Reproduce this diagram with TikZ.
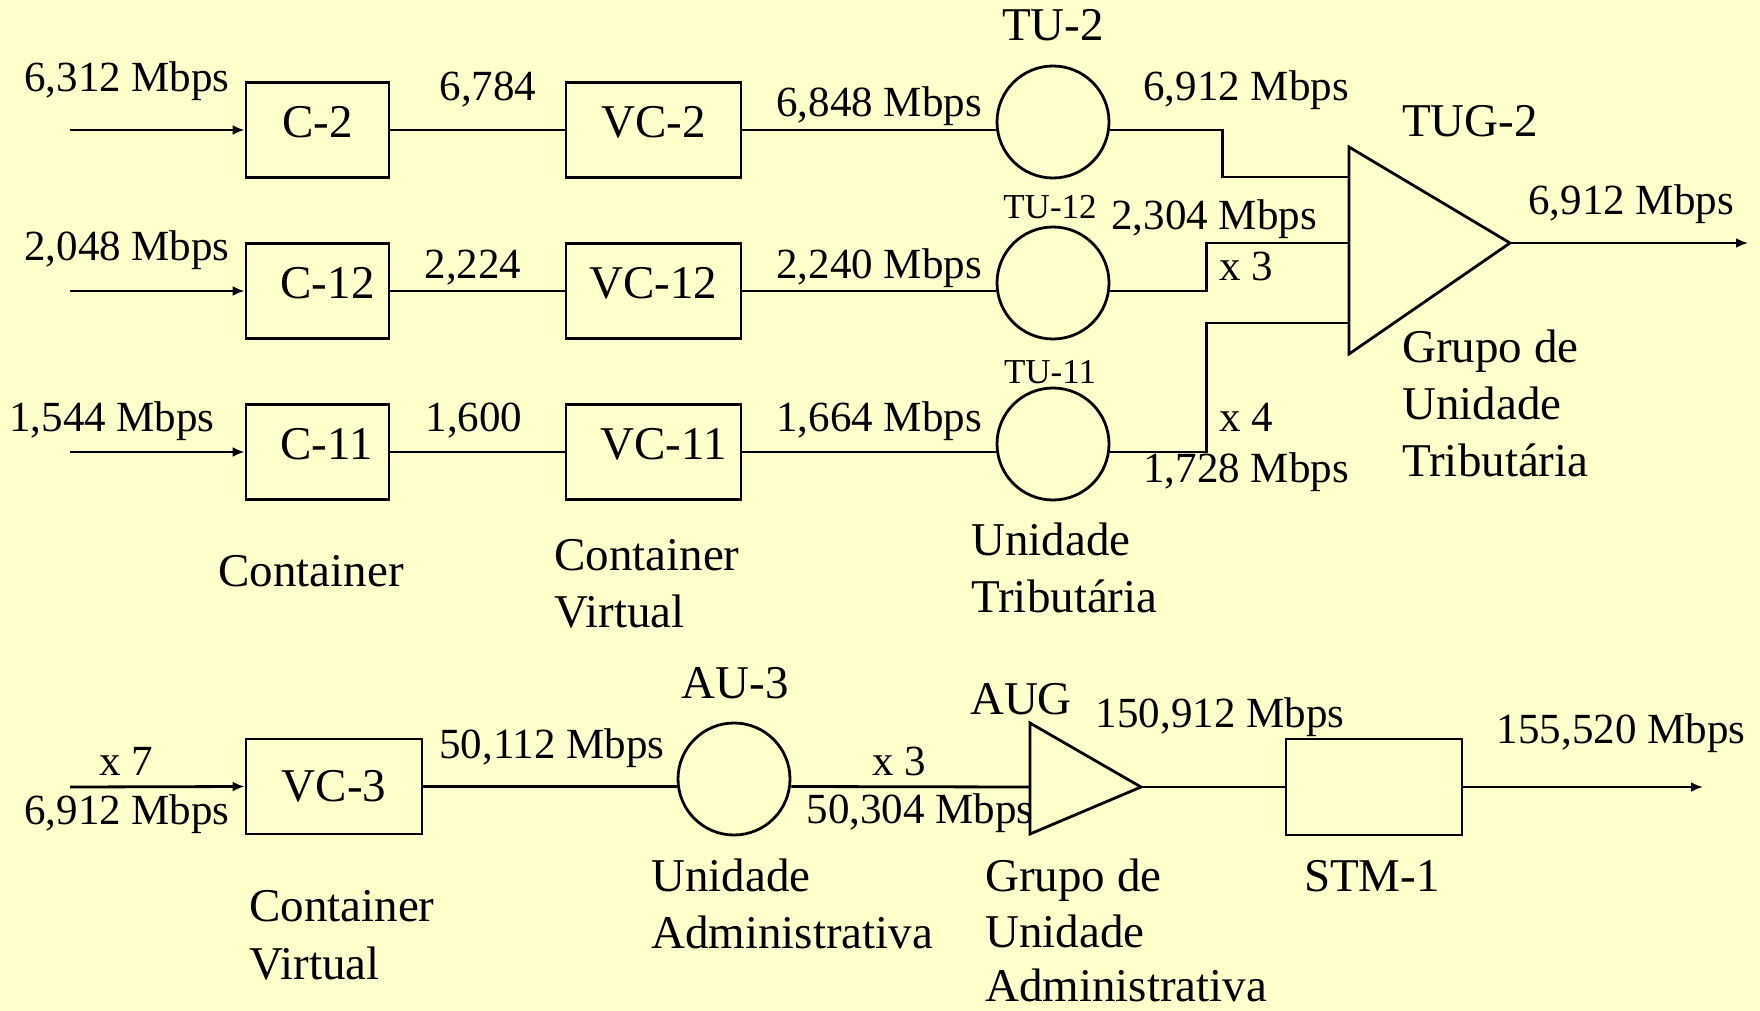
\documentclass[tikz,border=0pt]{standalone}
\usepackage{fontspec}
\setmainfont{Liberation Serif}
\usetikzlibrary{arrows.meta}
\definecolor{bgyellow}{HTML}{FFFFCC}
\tikzset{
  ln/.style={line width=2.8pt, draw=black},
  arr/.style={ln, -{Latex[length=12pt,width=10pt]}},
  boxnode/.style={ln, rectangle, inner sep=0pt, minimum height=95pt, font=\fontsize{47}{56}\selectfont},
  cnode/.style={ln, circle, inner sep=0pt, minimum size=112pt},
  rate/.style={anchor=base, inner sep=0pt, font=\fontsize{43}{52}\selectfont},
  big/.style={anchor=base, inner sep=0pt, font=\fontsize{47}{56}\selectfont},
  bigw/.style={anchor=base west, inner sep=0pt, font=\fontsize{47}{56}\selectfont},
  small/.style={anchor=base, inner sep=0pt, font=\fontsize{35}{42}\selectfont},
  boxtxt/.style={anchor=center, inner sep=0pt, font=\fontsize{47}{56}\selectfont},
}
\begin{document}
\begin{tikzpicture}[x=1pt,y=-1pt]
\fill[bgyellow] (0,0) rectangle (1760,1011);
\useasboundingbox (0,0) rectangle (1760,1011);

% ---------- Row 1 ----------
\coordinate (in1) at (70,130);
\node[boxnode, minimum width=143pt] (c2) at (317.5,130) {};
\node[boxnode, minimum width=175pt] (vc2) at (653.5,130) {};
\node[cnode] (tu2) at (1053,122) {};
% ---------- Row 2 ----------
\coordinate (in2) at (70,291);
\node[boxnode, minimum width=143pt] (c12) at (317.5,291) {};
\node[boxnode, minimum width=175pt] (vc12) at (653.5,291) {};
\node[cnode] (tu12) at (1053,283) {};
% ---------- Row 3 ----------
\coordinate (in3) at (70,452);
\node[boxnode, minimum width=143pt] (c11) at (317.5,452) {};
\node[boxnode, minimum width=175pt] (vc11) at (653.5,452) {};
\node[cnode] (tu11) at (1053,444) {};

% box texts
\node[boxtxt] (tc2) at ([yshift=8pt]c2.center) {C-2};
\node[boxtxt] (tvc2) at ([yshift=8pt]vc2.center) {VC-2};
\node[boxtxt] (tc12) at ([xshift=10pt,yshift=8pt]c12.center) {C-12};
\node[boxtxt] (tvc12) at ([yshift=8pt]vc12.center) {VC-12};
\node[boxtxt] (tc11) at ([xshift=9pt,yshift=8pt]c11.center) {C-11};
\node[boxtxt] (tvc11) at ([xshift=10pt,yshift=8pt]vc11.center) {VC-11};

% TUG-2 triangle
\coordinate (tugT) at (1349,147);
\coordinate (tugB) at (1349,354);
\coordinate (tugO) at (1510,243);
\coordinate (tugin1) at (1349,177);
\coordinate (tugin2) at (1349,243);
\coordinate (tugin3) at (1349,323);
\coordinate (tugend) at (1748,243);
\draw[ln, line join=miter] (tugT) -- (tugO) -- (tugB) -- cycle;

% connectors rows 1-3
\draw[arr] (in1) -- (c2.west);
\draw[ln] (c2.east) -- (vc2.west);
\draw[ln] (vc2.east) -- (vc2.east -| tu2.west);
\draw[ln] (tu2.east |- vc2.east) -- ++(112,0) |- (tugin1);

\draw[arr] (in2) -- (c12.west);
\draw[ln] (c12.east) -- (vc12.west);
\draw[ln] (vc12.east) -- (vc12.east -| tu12.west);
\draw[ln] (tu12.east |- vc12.east) -- ++(96,0) |- (tugin2);

\draw[arr] (in3) -- (c11.west);
\draw[ln] (c11.east) -- (vc11.west);
\draw[ln] (vc11.east) -- (vc11.east -| tu11.west);
\draw[ln] (tu11.east |- vc11.east) -- ++(96,0) |- (tugin3);

\draw[arr] (tugO) -- (tugend);

% labels rows 1-3
\node[rate] (l1in) at (127,92) {6,312 Mbps};
\node[rate] (l1a) at (488,101) {6,784};
\node[rate] (l1b) at (879,117) {6,848 Mbps};
\node[rate] (l1c) at (1246,101) {6,912 Mbps};
\node[rate] (l2in) at (127,260) {2,048 Mbps};
\node[rate] (l2a) at (473,278) {2,224};
\node[rate] (l2b) at (879,278) {2,240 Mbps};
\node[rate] (l2c) at (1214,229) {2,304 Mbps};
\node[rate] (lx3) at (1246,280) {x 3};
\node[rate] (l3in) at (112,431) {1,544 Mbps};
\node[rate] (l3a) at (474,431) {1,600};
\node[rate] (l3b) at (879,431) {1,664 Mbps};
\node[rate] (lx4) at (1246,431) {x 4};
\node[rate] (l3c) at (1246,482) {1,728 Mbps};
\node[rate] (ltug) at (1631,214) {6,912 Mbps};

\node[big] (ttu2) at (1053,41) {TU-2};
\node[small] (ttu12) at (1050,218) {TU-12};
\node[small] (ttu11) at (1050,383) {TU-11};
\node[big] (ttug) at (1470,137) {TUG-2};
\node[bigw] (g1) at (1402,362) {Grupo de};
\node[bigw] (g2) at (1402,419) {Unidade};
\node[bigw] (g3) at (1402,476) {Tributária};
\node[big] (cont1) at (311,586) {Container};
\node[bigw] (cv1) at (554,570) {Container};
\node[bigw] (cv2) at (554,627) {Virtual};
\node[bigw] (ut1) at (971,555) {Unidade};
\node[bigw] (ut2) at (971,612) {Tributária};

% ---------- Bottom row ----------
\coordinate (in4) at (70,787);
\node[boxnode, minimum width=176pt] (vc3) at (334,786.5) {VC-3};
\node[cnode] (au3) at (734,779) {};
\coordinate (augT) at (1030,723);
\coordinate (augB) at (1030,834);
\coordinate (augO) at (1141,787);
\coordinate (augin) at (1030,787);
\draw[ln, line join=miter] (augT) -- (augO) -- (augB) -- cycle;
\node[boxnode, minimum width=176pt, minimum height=96pt] (stm) at (1374,787) {};
\coordinate (out4) at (1703,787);

\draw[arr] (in4) -- (vc3.west);
\draw[ln] (vc3.east) -- (vc3.east -| au3.west);
\draw[ln] (au3.east |- vc3.east) -- (augin);
\draw[ln] (augO) -- (stm.west);
\draw[arr] (stm.east) -- (out4);

\node[rate] (lx7) at (126,775) {x 7};
\node[rate] (l4in) at (127,824) {6,912 Mbps};
\node[rate] (l4a) at (552,758) {50,112 Mbps};
\node[rate] (lx3b) at (899,775) {x 3};
\node[rate] (l4b) at (920,823) {50,304 Mbps};
\node[rate] (l4c) at (1220,727) {150,912 Mbps};
\node[rate] (l4d) at (1621,743) {155,520 Mbps};

\node[big] (tau3) at (735,698) {AU-3};
\node[big] (taug) at (1021,714) {AUG};
\node[big] (tstm) at (1372,891) {STM-1};
\node[bigw] (ua1) at (651,891) {Unidade};
\node[bigw] (ua2) at (651,948) {Administrativa};
\node[bigw] (ga1) at (985,891) {Grupo de};
\node[bigw] (ga2) at (985,947) {Unidade};
\node[bigw] (ga3) at (985,1001) {Administrativa};
\node[bigw] (cv3) at (249,921) {Container};
\node[bigw] (cv4) at (249,979) {Virtual};
\end{tikzpicture}
\end{document}
